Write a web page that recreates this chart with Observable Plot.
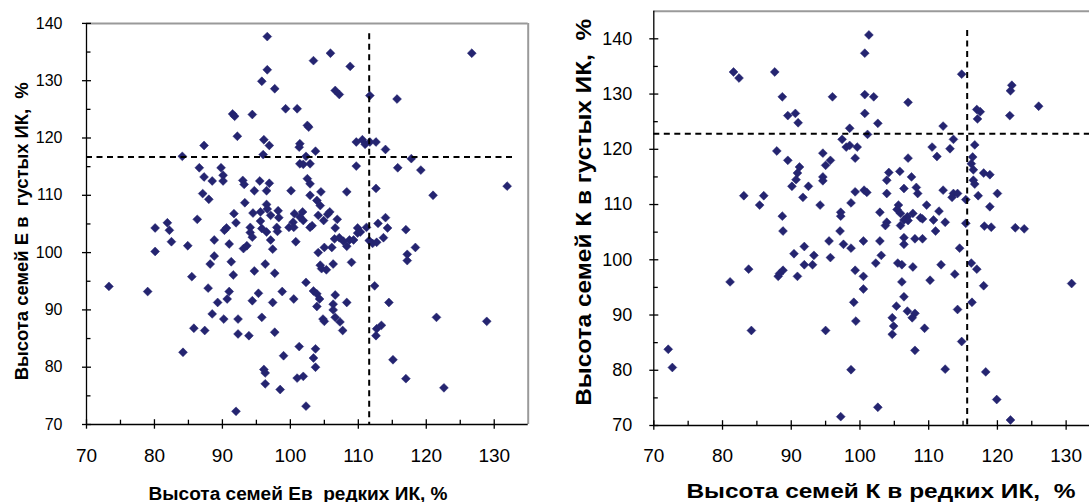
<!DOCTYPE html>
<html><head><meta charset="utf-8">
<script src="https://cdn.jsdelivr.net/npm/d3@7"></script>
<script src="https://cdn.jsdelivr.net/npm/@observablehq/plot@0.6"></script>
<style>
html,body{margin:0;padding:0;background:#fff;overflow:hidden;}
#wrap{display:flex;width:1089px;height:502px;}
#wrap svg{display:block;}
</style></head><body><div id="wrap"></div>
<script>
// ---- Left panel: family E ----
const leftX = [96.6,96.6,95.8,97.7,91.5,91.8,94.4,99.3,101.0,102.5,102.7,103.4,92.2,87.3,96.1,96.9,96.0,101.4,101.3,84.1,
102.3,101.4,101.9,86.6,89.8,87.3,90.1,90.1,88.5,93.0,93.2,95.5,96.9,96.5,94.7,87.1,88.0,100.1,102.5,102.9,
93.3,96.5,96.6,98.2,94.5,95.6,91.7,97.1,98.3,100.6,101.8,101.4,101.9,86.3,81.9,92.0,95.6,100.4,80.1,90.6,
94.1,98.0,102.9,82.2,80.1,82.5,84.9,73.3,79.0,85.5,84.2,85.8,87.4,87.9,88.2,88.8,88.8,89.3,88.5,90.2,
90.3,91.0,91.3,91.6,91.0,90.7,92.3,92.3,92.0,93.9,94.1,94.4,93.1,93.6,94.7,95.3,94.4,95.8,96.3,95.8,
96.5,97.1,97.4,97.7,98.1,98.8,97.4,97.7,96.1,96.3,96.3,98.5,99.0,99.8,100.5,100.8,100.5,101.3,102.3,101.0,
101.9,102.3,105.9,108.8,126.7,106.6,107.2,111.7,115.7,103.7,109.7,110.6,111.0,111.7,112.6,114.0,117.8,109.7,115.8,119.2,
102.9,102.9,104.5,108.3,112.6,121.0,131.9,103.9,104.4,105.8,105.5,104.1,104.9,106.9,103.2,106.6,109.9,111.2,112.9,114.0,
114.3,117.0,109.9,118.4,117.2,117.2,106.5,107.2,107.8,108.3,108.7,109.3,110.3,111.6,112.1,112.7,113.7,104.1,105.0,106.1,
104.4,104.6,105.3,106.3,109.0,103.4,103.9,104.3,103.9,106.6,108.3,106.3,106.3,104.8,105.0,106.6,107.3,107.7,112.4,114.5,
121.5,128.9,112.7,113.4,112.6,103.7,103.4,103.7,115.1,117.0,122.6];
const leftY = [137.7,131.9,129.9,128.6,124.2,123.8,124.1,125.1,125.1,122.2,121.9,133.5,120.3,118.7,119.7,118.7,117.1,119.0,118.4,116.8,
116.8,115.5,115.4,114.8,114.8,113.2,113.5,112.5,112.5,112.6,111.9,112.5,112.1,110.8,110.8,110.3,109.3,110.8,112.9,110.0,
108.7,108.4,107.6,107.3,106.9,107.1,106.8,106.5,106.1,106.8,107.1,106.2,105.6,105.8,105.2,105.2,105.5,105.3,104.3,104.3,
104.4,104.4,104.4,103.9,100.2,101.9,101.2,94.1,93.2,95.8,82.6,86.8,86.4,93.8,98.0,99.4,102.2,91.3,89.3,88.4,
103.9,101.5,98.4,96.1,93.2,91.9,88.4,85.8,72.3,85.5,103.5,102.7,100.7,101.2,96.8,92.9,91.6,88.7,98.0,104.2,
103.6,102.2,100.6,96.4,103.7,93.2,91.3,86.1,79.6,79.0,77.1,76.1,82.0,104.4,104.4,101.9,91.9,83.6,94.8,78.1,
78.4,73.2,134.8,132.5,134.8,128.3,127.6,127.4,126.8,117.7,119.3,119.7,118.9,119.3,119.3,118.0,116.4,115.1,114.8,114.4,
115.5,112.0,110.6,110.6,111.2,110.0,111.6,109.1,108.2,107.1,106.7,106.5,105.6,105.8,104.7,104.3,104.3,104.4,105.1,106.1,
104.3,104.0,103.4,100.9,99.7,98.6,102.4,102.6,102.0,101.1,102.2,102.2,103.6,102.1,101.6,101.8,102.6,100.0,100.9,100.9,
97.8,97.2,97.0,98.0,98.3,93.3,92.8,91.9,90.6,92.6,91.3,91.0,90.0,88.4,88.0,88.7,87.9,86.4,94.2,91.3,
88.7,88.0,86.7,87.3,85.5,83.2,81.6,80.0,81.3,78.0,76.4];
const leftVLine = [{x: 111.6, y1: 138.2, y2: 70}];
const leftHLine = [{y: 116.7, x1: 70, x2: 133.2}];
const leftXTitle = "Высота семей Ев  редких ИК, %";
const leftYTitle = "Высота семей Е в  густых ИК,  %";

// ---- Right panel: family K ----
const rightX = [81.6,82.4,87.6,88.7,96.0,89.5,90.6,91.0,98.5,97.4,98.0,98.5,99.6,99.3,100.7,101.3,100.7,100.7,101.1,87.9,
89.5,91.2,90.9,90.7,90.1,92.5,91.7,94.6,95.0,95.7,94.6,94.6,94.2,97.2,97.2,98.7,99.3,100.6,101.0,83.1,
85.4,86.0,88.7,88.8,97.1,72.1,72.7,81.1,83.8,84.2,88.1,88.3,88.8,90.4,90.9,91.9,91.9,93.3,93.1,95.0,
95.5,95.7,97.6,98.7,99.3,100.5,100.5,100.5,99.1,99.4,98.7,97.2,102.0,102.6,107.0,114.8,112.1,122.1,121.9,126.0,
117.0,117.5,117.1,121.8,113.6,110.5,113.1,111.2,116.7,107.0,116.4,116.2,116.5,118.0,118.9,104.2,103.9,105.8,107.5,116.5,
116.7,103.9,106.4,108.2,108.4,112.1,113.6,113.4,114.2,115.4,117.2,120.0,118.9,109.7,111.5,102.9,105.6,105.4,105.9,106.9,
106.4,107.7,105.9,103.9,103.7,108.8,109.1,110.7,112.4,115.4,118.1,119.1,122.6,123.9,111.0,102.9,106.4,106.4,108.0,109.1,
114.5,103.1,102.3,105.5,106.1,107.7,111.8,113.8,116.2,117.0,106.1,110.2,118.0,130.8,106.4,105.3,106.9,108.0,107.6,104.7,
104.9,104.7,109.4,114.2,116.3,114.8,108.0,112.4,118.3,102.6,119.9,121.9,107.0];
const rightY = [134.0,132.9,134.0,129.5,129.5,126.1,126.5,124.8,123.8,121.8,120.4,120.7,120.4,118.4,137.4,140.7,129.9,126.5,122.7,119.7,
118.0,116.8,115.7,114.5,113.3,113.3,111.3,119.3,117.1,118.0,115.0,114.3,109.9,108.6,107.9,110.3,112.3,112.6,112.2,111.6,
109.9,111.6,107.9,105.2,105.2,83.8,80.5,96.0,98.3,87.2,97.0,97.5,98.1,101.1,97.0,102.4,99.1,100.8,99.1,87.2,
103.4,100.4,102.8,102.1,98.1,97.0,103.4,94.7,92.3,88.9,80.1,71.6,129.5,124.7,128.5,133.6,124.2,131.6,130.6,127.8,
127.2,126.8,125.5,126.1,121.8,120.4,120.1,118.7,120.8,118.4,118.6,117.4,116.3,115.7,115.4,115.8,114.4,116.0,115.0,114.4,
113.7,112.0,112.9,113.1,112.0,112.6,112.0,111.3,112.0,110.9,111.6,112.0,109.6,109.9,108.8,108.6,109.9,109.1,108.4,107.8,
107.2,108.4,106.2,106.8,106.2,107.6,107.4,107.2,106.8,106.6,106.1,105.9,105.8,105.6,105.2,103.4,104.0,102.8,103.8,103.8,
102.1,100.8,99.4,99.4,99.1,98.7,99.1,97.4,99.4,98.3,96.0,96.3,95.3,95.7,93.3,91.6,90.7,90.3,89.5,89.5,
88.0,86.5,87.6,91.0,92.3,85.2,83.6,80.2,79.7,73.3,74.7,71.0,107.1];
const rightVLine = [{x: 115.6, y1: 141.5, y2: 70}];
const rightHLine = [{y: 122.8, x1: 70, x2: 133.4}];
const rightXTitle = "Высота семей К в редких ИК,  %";
const rightYTitle = "Высота семей К в густых ИК,  %";

// ---- tick values ----
const majorX = [70, 80, 90, 100, 110, 120, 130];
const minorX = [75, 85, 95, 105, 115, 125];
const majorY = [70, 80, 90, 100, 110, 120, 130, 140];
const minorY = [75, 85, 95, 105, 115, 125, 135];

const markerColor = "#242470";
const gridGray = "#9a9a9a";
const narrow = "'Liberation Sans Narrow', 'Arial Narrow', 'Liberation Sans', Arial, sans-serif";
const regular = "'Liberation Sans', Arial, sans-serif";

function panel(o) {
  const data = o.xs.map((x, i) => ({x, y: o.ys[i]}));
  const svg = Plot.plot({
    width: o.width, height: 502,
    marginLeft: o.marginLeft, marginRight: o.marginRight,
    marginTop: o.marginTop, marginBottom: o.marginBottom,
    x: {domain: o.xDomain}, y: {domain: o.yDomain},
    style: {fontFamily: regular, fontSize: "16px", color: "#000", background: "#fff", overflow: "visible"},
    marks: [
      Plot.ruleY([o.yDomain[1]], {stroke: gridGray, strokeWidth: 2}),
      o.rightBorder ? Plot.ruleX([o.xDomain[1]], {stroke: gridGray, strokeWidth: 2}) : null,
      Plot.dot(data, {x: "x", y: "y", symbol: "diamond2", r: 4, fill: markerColor, stroke: markerColor, strokeWidth: 0.5}),
      Plot.ruleX(o.vLine, {x: "x", y1: "y1", y2: "y2", stroke: "#000", strokeWidth: 2, strokeDasharray: "6,4.5"}),
      Plot.ruleY(o.hLine, {y: "y", x1: "x1", x2: "x2", stroke: "#000", strokeWidth: 2, strokeDasharray: "6,4.5"}),
      Plot.ruleX([o.xDomain[0]], {stroke: "#000", strokeWidth: 1.3}),
      Plot.ruleY([o.yDomain[0]], {stroke: "#000", strokeWidth: 1.3}),
      // y ticks: major crossing, minor inside
      Plot.axisY({ticks: majorY, tickSize: 9, dx: 5, tickFormat: () => "", label: null, strokeWidth: 1.3}),
      Plot.axisY({ticks: o.minorY, tickSize: 4.5, dx: 4.5, tickFormat: () => "", label: null, strokeWidth: 1.3}),
      Plot.axisY({ticks: majorY, tickSize: 0, tickPadding: o.yPad, label: null, fontFamily: narrow, fontSize: o.yFont}),
      // x ticks
      Plot.axisX({ticks: majorX, tickSize: 9.5, dy: -4.8, tickFormat: () => "", label: null, strokeWidth: 1.3}),
      Plot.axisX({ticks: minorX, tickSize: 4.3, dy: -4.3, tickFormat: () => "", label: null, strokeWidth: 1.3}),
      Plot.axisX({ticks: majorX, tickSize: 0, tickPadding: o.xPad, label: null, fontFamily: regular, fontSize: o.xFont}),
      // titles
      Plot.text([o.xTitle], {text: d => d, frameAnchor: "bottom", dx: o.xtDx, dy: o.xtDy, lineAnchor: "middle",
        textAnchor: "middle", fontWeight: "bold", fontSize: o.xtFont, fontFamily: regular}),
      Plot.text([o.yTitle], {text: d => d, frameAnchor: "left", dx: o.ytDx, dy: o.ytDy, rotate: -90, lineAnchor: "middle",
        textAnchor: "middle", fontWeight: "bold", fontSize: o.ytFont, fontFamily: regular})
    ]
  });
  svg.querySelectorAll("text").forEach(t => {
    if (t.textContent === o.xTitle) { t.setAttribute("textLength", o.xtLen); t.setAttribute("lengthAdjust", "spacingAndGlyphs"); }
    if (t.textContent === o.yTitle) { t.setAttribute("textLength", o.ytLen); t.setAttribute("lengthAdjust", "spacingAndGlyphs"); }
  });
  return svg;
}

const wrap = document.getElementById("wrap");
wrap.appendChild(panel({
  xs: leftX, ys: leftY, width: 545, marginLeft: 86, marginRight: 17.3, marginTop: 22.9, marginBottom: 78,
  xDomain: [70, 135], yDomain: [70, 140], rightBorder: true, minorY,
  vLine: leftVLine, hLine: leftHLine,
  yPad: 24, yFont: 16, xPad: 23.5, xFont: 19,
  xTitle: leftXTitle, xtDx: -9.3, xtDy: 69.5, xtFont: 18, xtLen: 299,
  yTitle: leftYTitle, ytDx: -64.5, ytDy: 7.3, ytFont: 18, ytLen: 298
}));
wrap.appendChild(panel({
  xs: rightX, ys: rightY, width: 544, marginLeft: 108.3, marginRight: 0, marginTop: 10.7, marginBottom: 77,
  xDomain: [70, 133.4], yDomain: [70, 145], rightBorder: false, minorY: [75, 85, 95, 105, 115, 125, 135],
  vLine: rightVLine, hLine: rightHLine,
  yPad: 21.6, yFont: 18, xPad: 23, xFont: 19,
  xTitle: rightXTitle, xtDx: 9.3, xtDy: 65.5, xtFont: 21, xtLen: 389,
  yTitle: rightYTitle, ytDx: -70, ytDy: -6, ytFont: 22, ytLen: 387
}));
</script>
</body></html>
